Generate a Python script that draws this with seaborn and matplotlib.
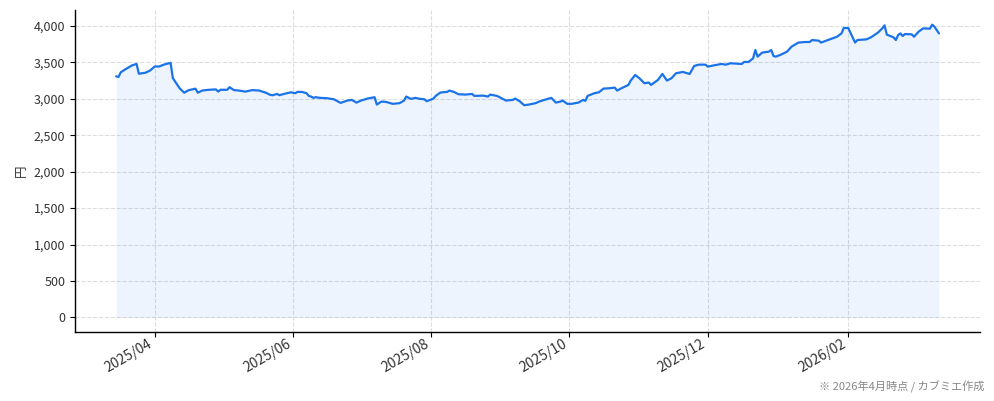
import pandas as pd
import matplotlib
matplotlib.use("Agg")
import matplotlib.pyplot as plt
import matplotlib.dates as mdates
from matplotlib.ticker import FuncFormatter
import seaborn as sns

sns.set_theme(style="ticks")
plt.rcParams['font.family'] = ['Noto Sans CJK JP', 'DejaVu Sans']

# -------------------------------
# Price data
# -------------------------------
dates = [
    "2025-03-15", "2025-03-16", "2025-03-17", "2025-03-19", "2025-03-22", "2025-03-24",
    "2025-03-25", "2025-03-28", "2025-03-30", "2025-04-01", "2025-04-03", "2025-04-05",
    "2025-04-08", "2025-04-09", "2025-04-12", "2025-04-14", "2025-04-16", "2025-04-19",
    "2025-04-20", "2025-04-22", "2025-04-25", "2025-04-28", "2025-04-29", "2025-04-30",
    "2025-05-03", "2025-05-04", "2025-05-06", "2025-05-08", "2025-05-11", "2025-05-14",
    "2025-05-17", "2025-05-19", "2025-05-20", "2025-05-22", "2025-05-23", "2025-05-25",
    "2025-05-26", "2025-05-28", "2025-05-31", "2025-06-02", "2025-06-03", "2025-06-05",
    "2025-06-07", "2025-06-08", "2025-06-09", "2025-06-10", "2025-06-11", "2025-06-13",
    "2025-06-16", "2025-06-19", "2025-06-22", "2025-06-25", "2025-06-27", "2025-06-29",
    "2025-07-01", "2025-07-04", "2025-07-07", "2025-07-08", "2025-07-10", "2025-07-12",
    "2025-07-15", "2025-07-18", "2025-07-20", "2025-07-21", "2025-07-23", "2025-07-25",
    "2025-07-27", "2025-07-29", "2025-07-30", "2025-08-02", "2025-08-03", "2025-08-05",
    "2025-08-08", "2025-08-09", "2025-08-11", "2025-08-13", "2025-08-16", "2025-08-19",
    "2025-08-20", "2025-08-24", "2025-08-26", "2025-08-27", "2025-08-30", "2025-09-01",
    "2025-09-03", "2025-09-06", "2025-09-07", "2025-09-09", "2025-09-11", "2025-09-13",
    "2025-09-16", "2025-09-18", "2025-09-20", "2025-09-23", "2025-09-25", "2025-09-27",
    "2025-09-28", "2025-09-30", "2025-10-02", "2025-10-05", "2025-10-07", "2025-10-08",
    "2025-10-09", "2025-10-12", "2025-10-14", "2025-10-16", "2025-10-19", "2025-10-21",
    "2025-10-22", "2025-10-24", "2025-10-27", "2025-10-28", "2025-10-30", "2025-11-01",
    "2025-11-03", "2025-11-05", "2025-11-06", "2025-11-09", "2025-11-11", "2025-11-13",
    "2025-11-15", "2025-11-17", "2025-11-20", "2025-11-23", "2025-11-25", "2025-11-27",
    "2025-11-30", "2025-12-01", "2025-12-04", "2025-12-07", "2025-12-09", "2025-12-11",
    "2025-12-16", "2025-12-17", "2025-12-19", "2025-12-21", "2025-12-22", "2025-12-23",
    "2025-12-25", "2025-12-28", "2025-12-29", "2025-12-30", "2025-12-31", "2026-01-02",
    "2026-01-05", "2026-01-07", "2026-01-10", "2026-01-13", "2026-01-15", "2026-01-16",
    "2026-01-19", "2026-01-20", "2026-01-23", "2026-01-27", "2026-01-29", "2026-01-30",
    "2026-02-01", "2026-02-04", "2026-02-05", "2026-02-09", "2026-02-11", "2026-02-14",
    "2026-02-16", "2026-02-17", "2026-02-18", "2026-02-21", "2026-02-22", "2026-02-23",
    "2026-02-24", "2026-02-25", "2026-02-26", "2026-03-01", "2026-03-02", "2026-03-04",
    "2026-03-06", "2026-03-09", "2026-03-10", "2026-03-11", "2026-03-13",
]
prices = [
    3310, 3300, 3365, 3405, 3460, 3480,
    3345, 3360, 3390, 3445, 3445, 3470,
    3495, 3285, 3145, 3085, 3120, 3140,
    3085, 3115, 3125, 3130, 3100, 3125,
    3125, 3160, 3120, 3115, 3100, 3120,
    3115, 3095, 3085, 3055, 3050, 3068,
    3050, 3068, 3090, 3078, 3096, 3095,
    3078, 3040, 3032, 3014, 3023, 3014,
    3009, 2995, 2945, 2977, 2986, 2949,
    2977, 3005, 3023, 2922, 2963, 2959,
    2932, 2941, 2977, 3032, 3000, 3014,
    3000, 2995, 2968, 3005, 3041, 3087,
    3096, 3114, 3096, 3064, 3059, 3068,
    3041, 3045, 3032, 3059, 3041, 3009,
    2977, 2986, 3005, 2968, 2913, 2922,
    2941, 2968, 2986, 3014, 2949, 2963,
    2977, 2932, 2932, 2950, 2986, 2973,
    3041, 3078, 3091, 3141, 3147, 3155,
    3114, 3147, 3192, 3251, 3329, 3279,
    3215, 3224, 3192, 3260, 3342, 3251,
    3284, 3352, 3370, 3342, 3452, 3470,
    3470, 3443, 3462, 3479, 3470, 3489,
    3479, 3507, 3507, 3557, 3671, 3580,
    3635, 3649, 3671, 3589, 3580, 3603,
    3649, 3718, 3773, 3781, 3781, 3808,
    3799, 3773, 3808, 3853, 3899, 3973,
    3973, 3773, 3808, 3817, 3845, 3908,
    3968, 4010, 3882, 3845, 3808, 3877,
    3899, 3863, 3890, 3886, 3853, 3922,
    3968, 3964, 4019, 3992, 3899,
]

df = pd.DataFrame({"date": pd.to_datetime(dates), "price": prices})

line_color = "#1a73e8"

# -------------------------------
# Figure
# -------------------------------
fig = plt.figure(figsize=(9.94, 4.01), dpi=100)
ax = fig.add_axes([0.0755, 0.172, 0.9105, 0.803])

sns.lineplot(data=df, x="date", y="price", ax=ax, color=line_color, linewidth=1.6)
ax.fill_between(df["date"], df["price"], 0, color=line_color, alpha=0.08, linewidth=0)

ax.set_xlabel("")
ax.set_ylabel("円", fontsize=9, color="#333333")
ax.yaxis.set_major_formatter(FuncFormatter(lambda v, p: f"{int(v):,}"))
ax.set_yticks(range(0, 4001, 500))

ax.xaxis.set_major_locator(mdates.MonthLocator(bymonth=[2, 4, 6, 8, 10, 12]))
ax.xaxis.set_major_formatter(mdates.DateFormatter("%Y/%m"))

ax.tick_params(axis="both", length=3.5, width=0.8, color="black", labelcolor="#333333")
ax.tick_params(axis="y", labelsize=9)
ax.tick_params(axis="x", labelsize=10, pad=0)
for lbl in ax.get_xticklabels():
    lbl.set_rotation(30)
    lbl.set_ha("right")

ax.grid(True, linestyle="--", color="#dddddd", linewidth=0.8)
ax.set_axisbelow(True)
sns.despine(ax=ax)
for side in ["left", "bottom"]:
    ax.spines[side].set_color("black")
    ax.spines[side].set_linewidth(1.0)

fig.text(0.99, 0.02, "※ 2026年4月時点 / カブミエ作成", ha="right", va="bottom",
         fontsize=8, color="#888888")

fig.savefig("out.png", dpi=100)
